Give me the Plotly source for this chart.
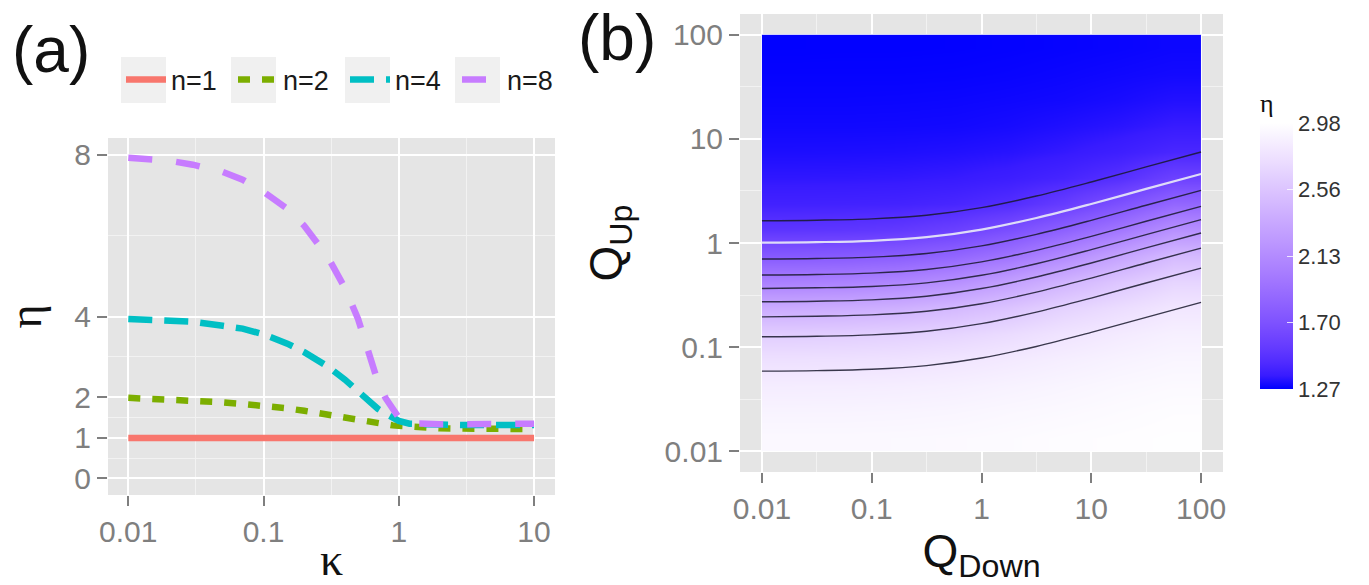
import numpy as np
import plotly.graph_objects as go

W, H = 1369, 585

# ---------------- Panel (a) data ----------------
kappa = [0.01, 0.02, 0.03, 0.05, 0.07, 0.1, 0.15, 0.2, 0.3, 0.4, 0.5, 0.6,
         0.7, 0.8, 0.9, 1.0, 1.2, 1.5, 2, 3, 5, 7, 10]
eta_n1 = [1.0, 1.0, 1.0, 1.0, 1.0, 1.0, 1.0, 1.0, 1.0, 1.0, 1.0, 1.0,
          1.0, 1.0, 1.0, 1.0, 1.0, 1.0, 1.0, 1.0, 1.0, 1.0, 1.0]
eta_n2 = [1.99, 1.95, 1.93, 1.88, 1.84, 1.80, 1.73, 1.67, 1.57, 1.48, 1.42, 1.38,
          1.35, 1.33, 1.31, 1.30, 1.28, 1.26, 1.24, 1.23, 1.22, 1.22, 1.22]
eta_n4 = [3.94, 3.90, 3.87, 3.77, 3.70, 3.56, 3.33, 3.12, 2.76, 2.44, 2.15, 1.91,
          1.72, 1.60, 1.49, 1.42, 1.35, 1.33, 1.33, 1.32, 1.32, 1.32, 1.32]
eta_n8 = [7.92, 7.85, 7.75, 7.57, 7.38, 7.08, 6.66, 6.24, 5.46, 4.70, 3.94, 3.15,
          2.39, 1.98, 1.72, 1.50, 1.36, 1.34, 1.34, 1.34, 1.34, 1.34, 1.35]
series_names = ["n=1", "n=2", "n=4", "n=8"]
series_colors = ["#F8766D", "#7CAE00", "#00BFC4", "#C77CFF"]
series_dash = ["solid", "12px,12px", "24px,12px", "24px,24px"]

a_xticks = [0.01, 0.1, 1, 10]
a_xticktext = ["0.01", "0.1", "1", "10"]
a_yticks = [0, 1, 2, 4, 8]

# ---------------- Panel (b) data ----------------
# cell edges (log10 of Q) for the eta grid
qdown_edges_log = [-2, -1.5, -1, -0.5, 0, 0.5, 1, 1.5, 2]
qup_edges_log = [-2, -1.75, -1.5, -1.25, -1, -0.75, -0.5, -0.25, 0,
                 0.25, 0.5, 0.75, 1, 1.25, 1.5, 1.75, 2]
# eta values, rows from Q_up = 0.01 (bottom) to 100 (top)
eta_grid = [
    [2.932, 2.932, 2.934, 2.939, 2.947, 2.958, 2.965, 2.972],
    [2.899, 2.900, 2.904, 2.911, 2.925, 2.936, 2.949, 2.961],
    [2.848, 2.850, 2.856, 2.869, 2.888, 2.907, 2.927, 2.940],
    [2.758, 2.762, 2.773, 2.798, 2.828, 2.861, 2.890, 2.912],
    [2.617, 2.624, 2.641, 2.670, 2.721, 2.783, 2.832, 2.871],
    [2.370, 2.380, 2.406, 2.467, 2.550, 2.653, 2.729, 2.802],
    [2.046, 2.057, 2.086, 2.156, 2.280, 2.430, 2.565, 2.674],
    [1.754, 1.762, 1.786, 1.844, 1.947, 2.114, 2.302, 2.473],
    [1.504, 1.510, 1.527, 1.576, 1.672, 1.810, 1.969, 2.165],
    [1.390, 1.392, 1.397, 1.415, 1.452, 1.547, 1.690, 1.852],
    [1.342, 1.343, 1.346, 1.354, 1.372, 1.405, 1.464, 1.583],
    [1.313, 1.314, 1.316, 1.321, 1.330, 1.349, 1.376, 1.417],
    [1.295, 1.295, 1.296, 1.298, 1.305, 1.318, 1.333, 1.355],
    [1.285, 1.285, 1.286, 1.288, 1.292, 1.297, 1.307, 1.322],
    [1.278, 1.278, 1.278, 1.279, 1.282, 1.287, 1.293, 1.299],
    [1.272, 1.273, 1.273, 1.274, 1.276, 1.279, 1.283, 1.289],
]
eta_min, eta_max = 1.27, 2.98
cbar_ticks = [1.27, 1.6975, 2.125, 2.5525, 2.98]
cbar_text = ["1.27", "1.70", "2.13", "2.56", "2.98"]

# contour lines: Q_up position of each level at these Q_down values
contour_qdown = [0.01, 0.0316, 0.1, 0.316, 1, 3.16, 10, 31.6, 100]
contour_qup = [
    [1.637, 1.656, 1.706, 1.849, 2.188, 2.825, 3.855, 5.383, 7.482],
    [1.007, 1.019, 1.050, 1.138, 1.346, 1.738, 2.371, 3.311, 4.603],
    [0.7015, 0.7096, 0.7311, 0.7925, 0.9376, 1.211, 1.652, 2.307, 3.206],
    [0.492, 0.498, 0.513, 0.556, 0.658, 0.849, 1.159, 1.618, 2.249],
    [0.366, 0.371, 0.382, 0.414, 0.490, 0.632, 0.863, 1.205, 1.675],
    [0.273, 0.276, 0.284, 0.308, 0.365, 0.471, 0.643, 0.897, 1.247],
    [0.195, 0.198, 0.204, 0.221, 0.261, 0.337, 0.460, 0.643, 0.893],
    [0.1256, 0.1271, 0.1309, 0.1419, 0.1679, 0.2168, 0.2958, 0.4130, 0.5741],
    [0.0587, 0.0594, 0.0612, 0.0664, 0.0785, 0.1014, 0.1384, 0.1932, 0.2685],
]
highlight_level = 1  # the light contour

b_ticks_log = [-2, -1, 0, 1, 2]
b_ticktext = ["0.01", "0.1", "1", "10", "100"]


# ---------------- colour scale: blue -> white in Lab space ----------------
def _to_lin(c):
    c = c / 255.0
    return c / 12.92 if c <= 0.04045 else ((c + 0.055) / 1.055) ** 2.4


def _to_srgb(c):
    c = min(max(c, 0.0), 1.0)
    v = 12.92 * c if c <= 0.0031308 else 1.055 * c ** (1 / 2.4) - 0.055
    return int(round(v * 255))


_WP = (0.95047, 1.0, 1.08883)


def _f(t):
    return t ** (1 / 3) if t > 216 / 24389 else (24389 / 27 * t + 16) / 116


def _finv(t):
    return t ** 3 if t ** 3 > 216 / 24389 else (116 * t - 16) / (24389 / 27)


def rgb_to_lab(rgb):
    r, g, b = [_to_lin(v) for v in rgb]
    X = 0.4124 * r + 0.3576 * g + 0.1805 * b
    Y = 0.2126 * r + 0.7152 * g + 0.0722 * b
    Z = 0.0193 * r + 0.1192 * g + 0.9505 * b
    fx, fy, fz = _f(X / _WP[0]), _f(Y / _WP[1]), _f(Z / _WP[2])
    return (116 * fy - 16, 500 * (fx - fy), 200 * (fy - fz))


def lab_to_rgb(lab):
    L, a, b = lab
    fy = (L + 16) / 116
    fx = fy + a / 500
    fz = fy - b / 200
    X, Y, Z = _finv(fx) * _WP[0], _finv(fy) * _WP[1], _finv(fz) * _WP[2]
    r = 3.2406 * X - 1.5372 * Y - 0.4986 * Z
    g = -0.9689 * X + 1.8758 * Y + 0.0415 * Z
    bb = 0.0557 * X - 0.2040 * Y + 1.0570 * Z
    return (_to_srgb(r), _to_srgb(g), _to_srgb(bb))


lab_lo = rgb_to_lab((0, 0, 255))
lab_hi = rgb_to_lab((255, 255, 255))
colorscale = []
for i in range(21):
    t = i / 20
    lab = tuple(lab_lo[k] + (lab_hi[k] - lab_lo[k]) * t for k in range(3))
    r, g, b = lab_to_rgb(lab)
    colorscale.append([t, f"rgb({r},{g},{b})"])

# ---------------- figure ----------------
fig = go.Figure()

# heatmap (b)
fig.add_trace(go.Heatmap(
    x=qdown_edges_log, y=qup_edges_log, z=eta_grid,
    zmin=eta_min, zmax=eta_max, zsmooth="best",
    colorscale=colorscale, xaxis="x2", yaxis="y2",
    hoverinfo="skip",
    colorbar=dict(
        x=1260 / W, xanchor="left", xpad=0,
        y=1 - 389 / H, yanchor="bottom", ypad=0,
        len=300, lenmode="pixels", thickness=33, thicknessmode="pixels",
        outlinewidth=0,
        tickvals=cbar_ticks, ticktext=cbar_text,
        ticks="inside", ticklen=6, tickwidth=1, tickcolor="rgba(255,255,255,0.8)",
        tickfont=dict(family="Liberation Sans", size=22, color="#333333"),
        title=dict(text="η", side="top",
                   font=dict(family="Liberation Serif", size=26, color="#111111")),
    ),
))

log_qdown = np.log10(contour_qdown)
for i, line in enumerate(contour_qup):
    is_hi = (i == highlight_level)
    fig.add_trace(go.Scatter(
        x=log_qdown, y=np.log10(line), mode="lines",
        line=dict(color="rgba(228,228,248,0.95)" if is_hi else "rgba(25,25,45,0.85)",
                  width=2.2 if is_hi else 1.4, shape="spline", smoothing=1.0),
        xaxis="x2", yaxis="y2", showlegend=False, hoverinfo="skip",
    ))

# lines (a)
for name, ys, col, dash in zip(series_names, [eta_n1, eta_n2, eta_n4, eta_n8],
                               series_colors, series_dash):
    fig.add_trace(go.Scatter(
        x=kappa, y=ys, mode="lines", name=name,
        line=dict(color=col, width=6.5, dash=dash),
        xaxis="x", yaxis="y",
    ))

tick_font = dict(family="Liberation Sans", size=30, color="#7F7F7F")
common_axis = dict(
    showgrid=True, gridcolor="white", gridwidth=2, zeroline=False, showline=False,
    ticks="outside", ticklen=10, tickwidth=2, tickcolor="#7F7F7F",
    tickfont=tick_font, automargin=False,
)

fig.update_layout(
    width=W, height=H,
    margin=dict(l=0, r=0, t=0, b=0, autoexpand=False),
    paper_bgcolor="white", plot_bgcolor="#E5E5E5",
    showlegend=True,
    legend=dict(
        orientation="h", x=121 / W, xanchor="left", y=1 - 80 / H, yanchor="middle",
        bgcolor="rgba(0,0,0,0)", borderwidth=0,
        font=dict(family="Liberation Sans", size=27, color="#1a1a1a"),
        itemwidth=40, entrywidth=57, entrywidthmode="pixels",
        itemclick=False, itemdoubleclick=False,
    ),
    xaxis=dict(
        common_axis, type="log", range=[-2.15, 1.155],
        domain=[108 / W, 555 / W], anchor="y",
        tickvals=a_xticks, ticktext=a_xticktext,
        minor=dict(tickvals=[10 ** -1.5, 10 ** -0.5, 10 ** 0.5], showgrid=True,
                   gridcolor="#F2F2F2", gridwidth=1, ticks=""),
        title=dict(text="κ", standoff=1,
                   font=dict(family="Liberation Serif", size=46, color="#111111")),
    ),
    yaxis=dict(
        common_axis, range=[-0.41, 8.41],
        domain=[1 - 495 / H, 1 - 138 / H], anchor="x",
        tickvals=a_yticks, ticktext=[str(v) for v in a_yticks],
        minor=dict(tickvals=[0.5, 1.5, 3, 6], showgrid=True,
                   gridcolor="#F2F2F2", gridwidth=1, ticks=""),
        title=dict(text="η", standoff=18,
                   font=dict(family="Liberation Serif", size=46, color="#111111")),
    ),
    xaxis2=dict(
        common_axis, range=[-2.2, 2.2],
        domain=[740 / W, 1223 / W], anchor="y2",
        tickvals=b_ticks_log, ticktext=b_ticktext,
        minor=dict(tickvals=[-1.5, -0.5, 0.5, 1.5], showgrid=True,
                   gridcolor="#F2F2F2", gridwidth=1, ticks=""),
        title=dict(text="Q<sub>Down</sub>", standoff=2,
                   font=dict(family="Liberation Sans", size=46, color="#111111")),
    ),
    yaxis2=dict(
        common_axis, range=[-2.2, 2.2],
        domain=[1 - 472 / H, 1 - 14 / H], anchor="x2",
        tickvals=b_ticks_log, ticktext=b_ticktext,
        minor=dict(tickvals=[-1.5, -0.5, 0.5, 1.5], showgrid=True,
                   gridcolor="#F2F2F2", gridwidth=1, ticks=""),
        title=dict(text="Q<sub>Up</sub>", standoff=27,
                   font=dict(family="Liberation Sans", size=46, color="#111111")),
    ),
    annotations=[
        dict(text="(a)", x=51 / W, y=1 - 50 / H, xref="paper", yref="paper",
             showarrow=False, xanchor="center", yanchor="middle",
             font=dict(family="Liberation Sans", size=64, color="#111111")),
        dict(text="(b)", x=617 / W, y=1 - 38 / H, xref="paper", yref="paper",
             showarrow=False, xanchor="center", yanchor="middle",
             font=dict(family="Liberation Sans", size=64, color="#111111")),
    ],
)

# grey key backgrounds behind the legend symbols
shapes = []
for x0 in [121, 231, 345, 455]:
    shapes.append(dict(type="rect", xref="paper", yref="paper",
                       x0=x0 / W, x1=(x0 + 45) / W, y0=1 - 103 / H, y1=1 - 57 / H,
                       fillcolor="#F0F0F0", line=dict(width=0), layer="above"))
fig.update_layout(shapes=shapes)

fig.write_html("out.html", config={"displayModeBar": False},
               post_script="document.body.style.margin='0px';")
